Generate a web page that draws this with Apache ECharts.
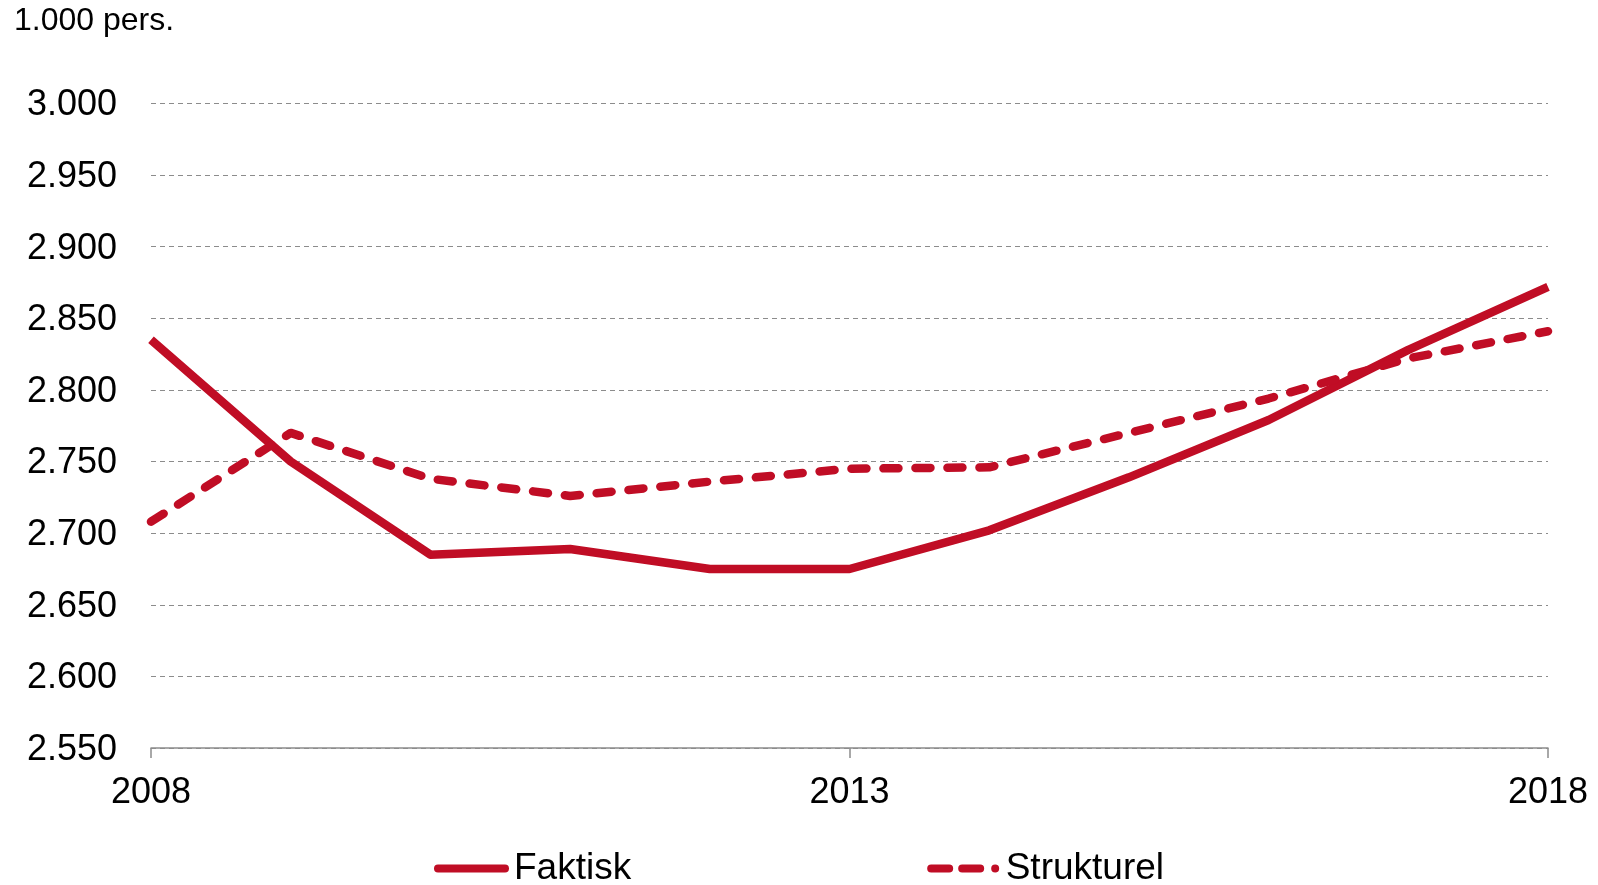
<!DOCTYPE html>
<html>
<head>
<meta charset="utf-8">
<script src="https://cdn.jsdelivr.net/npm/echarts@6/dist/echarts.min.js"></script>
<style>
html,body{margin:0;padding:0;background:#fff;}
#chart{width:1598px;height:885px;}
</style>
</head>
<body>
<div id="chart"></div>
<script>
const years = ['2008','2009','2010','2011','2012','2013','2014','2015','2016','2017','2018'];
const faktisk = [2835, 2750, 2685, 2689, 2675, 2675, 2702, 2739, 2779, 2828, 2872];
const strukturel = [2708, 2770, 2738, 2726, 2736, 2745, 2746, 2770, 2794, 2822, 2841];
const yTicks = {min: 2550, max: 3000, step: 50};
const unitLabel = '1.000 pers.';
const seriesNames = ['Faktisk', 'Strukturel'];

const red = '#C00D25';
const font = 'Liberation Sans, Arial, sans-serif';

const solidIcon = 'path://M4,0 H71 A4,4 0 0 1 71,8 H4 A4,4 0 0 1 4,0 Z';
const dashIcon = 'path://M4,0 H22 A4,4 0 0 1 22,8 H4 A4,4 0 0 1 4,0 Z M35,0 H53 A4,4 0 0 1 53,8 H35 A4,4 0 0 1 35,0 Z M68,0 A4,4 0 1 1 68,8 A4,4 0 1 1 68,0 Z';

const chart = echarts.init(document.getElementById('chart'));
chart.setOption({
  animation: false,
  backgroundColor: '#ffffff',
  title: {
    text: unitLabel,
    left: 14, top: 5, padding: 0,
    textStyle: {fontFamily: font, fontSize: 32, fontWeight: 'normal', color: '#000'}
  },
  grid: {left: 151, right: 50, top: 103.5, bottom: 137, containLabel: false},
  legend: {
    data: [
      {name: seriesNames[0], icon: solidIcon},
      {name: seriesNames[1], icon: dashIcon}
    ],
    left: 'center',
    top: 850,
    itemWidth: 75,
    itemHeight: 8,
    itemGap: 296,
    textStyle: {fontFamily: font, fontSize: 37, color: '#000'},
    padding: 0
  },
  xAxis: {
    type: 'category',
    data: years,
    boundaryGap: false,
    axisLine: {lineStyle: {color: '#8c8c8c', width: 1.5}},
    axisTick: {interval: 4, length: 10, lineStyle: {color: '#8c8c8c', width: 1.5}},
    axisLabel: {interval: 4, margin: 27, fontFamily: font, fontSize: 36, color: '#000'},
    splitLine: {show: false}
  },
  yAxis: {
    type: 'value',
    min: yTicks.min, max: yTicks.max, interval: yTicks.step,
    axisLine: {show: false},
    axisTick: {show: false},
    axisLabel: {
      margin: 34, fontFamily: font, fontSize: 36, color: '#000',
      formatter: v => '{a|' + (v >= 1000 ? Math.floor(v/1000) + '.' + String(v % 1000).padStart(3,'0') : String(v)) + '}',
      rich: {a: {fontFamily: font, fontSize: 36, color: '#000', padding: [4, 0, 0, 0]}}
    },
    splitLine: {lineStyle: {color: '#8c8c8c', type: [5, 4], width: 1}}
  },
  series: [
    {
      name: seriesNames[0], type: 'line', data: faktisk,
      symbol: 'none', smooth: false,
      lineStyle: {color: red, width: 8.5, join: 'round'},
      itemStyle: {color: red}
    },
    {
      name: seriesNames[1], type: 'line', data: strukturel,
      symbol: 'none', smooth: false,
      lineStyle: {color: red, width: 8.5, type: [15, 17], cap: 'round', join: 'round'},
      itemStyle: {color: red}
    }
  ]
});
</script>
</body>
</html>
